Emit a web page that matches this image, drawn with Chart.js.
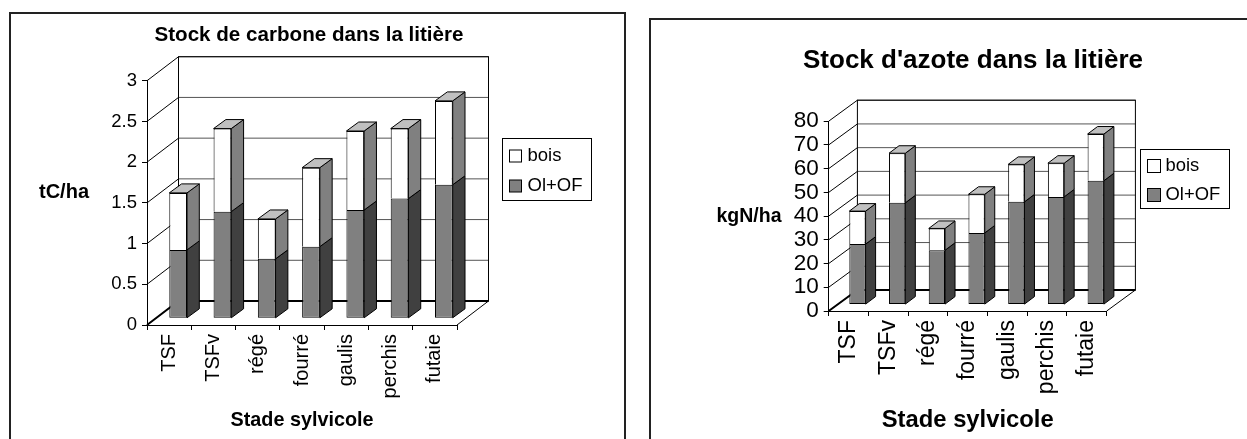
<!DOCTYPE html>
<html>
<head>
<meta charset="utf-8">
<script src="https://cdn.jsdelivr.net/npm/chart.js@4"></script>
<style>
  html, body { margin: 0; background: #fff; overflow: hidden; width: 1247px; height: 439px; }
  .frame { position: absolute; border: 2px solid #222; box-sizing: border-box; }
  canvas { position: absolute; top: 0; }
</style>
</head>
<body>
<div class="frame" style="left:9px; top:12px; width:617px; height:500px"></div>
<div class="frame" style="left:649px; top:18px; width:700px; height:500px"></div>
<canvas id="chartCarbone" width="618" height="439" style="left:0"></canvas>
<canvas id="chartAzote" width="546" height="439" style="left:700px"></canvas>
<script>
const categories = ['TSF', 'TSFv', 'régé', 'fourré', 'gaulis', 'perchis', 'futaie'];

// stock de carbone (tC/ha)
const carboneOlOf = [0.84, 1.31, 0.73, 0.88, 1.33, 1.47, 1.64];
const carboneBois = [0.70, 1.02, 0.49, 0.97, 0.97, 0.86, 1.03];

// stock d'azote (kgN/ha)
const azoteOlOf = [25.5, 42.9, 22.9, 30.2, 43.3, 45.4, 52.2];
const azoteBois = [13.9, 20.9, 9.2, 16.3, 15.8, 14.2, 19.7];

const FONT = '"Liberation Sans", Arial, sans-serif';
Chart.defaults.color = '#000';
Chart.defaults.font.family = FONT;

// dessine les parois, les faces des barres et la legende (pas de 3D dans Chart.js)
const fake3d = {
  id: 'fake3d',
  afterLayout(chart) {
    // titre centre sur tout le canvas, pas seulement sur la zone hors padding
    chart.titleBlock.left = 0;
    chart.titleBlock.right = chart.width;
  },
  beforeDatasetsDraw(chart, args, o) {
    const ctx = chart.ctx, a = chart.chartArea, y = chart.scales.y;
    const [dx, dy] = o.wall;
    ctx.save();
    ctx.lineWidth = 1;
    // lignes de grille sur le mur du fond et le mur de gauche
    y.ticks.forEach(t => {
      const py = y.getPixelForValue(t.value);
      ctx.strokeStyle = '#000';
      ctx.beginPath();
      ctx.moveTo(a.left, py);
      ctx.lineTo(a.left + dx, py + dy);
      ctx.stroke();
      ctx.strokeStyle = '#555';
      ctx.beginPath();
      ctx.moveTo(a.left + dx, py + dy);
      ctx.lineTo(a.right + dx, py + dy);
      ctx.stroke();
    });
    ctx.strokeStyle = '#000';
    ctx.strokeRect(a.left + dx, a.top + dy, a.right - a.left, a.bottom - a.top);
    ctx.beginPath();
    ctx.moveTo(a.right, a.bottom);
    ctx.lineTo(a.right + dx, a.bottom + dy);
    ctx.stroke();
    ctx.lineWidth = 2;
    ctx.beginPath();
    ctx.moveTo(a.left, a.bottom);
    ctx.lineTo(a.left + dx, a.bottom + dy);
    ctx.lineTo(a.right + dx, a.bottom + dy);
    ctx.stroke();
    ctx.restore();
    // les barres sont dessinees au milieu de la profondeur
    ctx.save();
    ctx.translate(o.barShift[0], o.barShift[1]);
  },
  afterDatasetsDraw(chart, args, o) {
    const ctx = chart.ctx;
    const [dx, dy] = o.barDepth;
    ctx.lineWidth = 1;
    ctx.strokeStyle = '#000';
    chart.data.datasets.forEach((ds, i) => {
      chart.getDatasetMeta(i).data.forEach(bar => {
        const r = bar.x + bar.width / 2;
        ctx.fillStyle = ds.sideColor;
        ctx.beginPath();
        ctx.moveTo(r, bar.base);
        ctx.lineTo(r + dx, bar.base + dy);
        ctx.lineTo(r + dx, bar.y + dy);
        ctx.lineTo(r, bar.y);
        ctx.closePath();
        ctx.fill();
        ctx.stroke();
        if (i === chart.data.datasets.length - 1) {
          const l = bar.x - bar.width / 2;
          ctx.fillStyle = '#c0c0c0';
          ctx.beginPath();
          ctx.moveTo(l, bar.y);
          ctx.lineTo(l + dx, bar.y + dy);
          ctx.lineTo(r + dx, bar.y + dy);
          ctx.lineTo(r, bar.y);
          ctx.closePath();
          ctx.fill();
          ctx.stroke();
        }
      });
    });
    ctx.restore();
  },
  afterDraw(chart, args, o) {
    const ctx = chart.ctx;
    ctx.save();
    ctx.fillStyle = '#000';
    ctx.textBaseline = 'middle';
    ctx.textAlign = 'center';
    ctx.font = 'bold ' + o.yTitle.size + 'px ' + FONT;
    ctx.fillText(o.yTitle.text, o.yTitle.x, o.yTitle.y);

    // legende encadree, dans l'ordre inverse des series
    const L = o.legend;
    ctx.strokeStyle = '#000';
    ctx.lineWidth = 1;
    ctx.fillStyle = '#fff';
    ctx.fillRect(L.x, L.y, L.w, L.h);
    ctx.strokeRect(L.x, L.y, L.w, L.h);
    ctx.textAlign = 'left';
    ctx.font = L.size + 'px ' + FONT;
    chart.data.datasets.slice().reverse().forEach((ds, i) => {
      const cy = L.rows[i];
      ctx.fillStyle = ds.backgroundColor;
      ctx.fillRect(L.x + L.swatchX, cy - L.swatch / 2, L.swatch, L.swatch);
      ctx.strokeRect(L.x + L.swatchX, cy - L.swatch / 2, L.swatch, L.swatch);
      ctx.fillStyle = '#000';
      ctx.fillText(ds.label, L.x + L.textX, cy);
    });
    ctx.restore();
  }
};

function makeChart(id, c) {
  new Chart(document.getElementById(id), {
    type: 'bar',
    plugins: [fake3d],
    data: {
      labels: categories,
      datasets: [
        { label: 'Ol+OF', data: c.olof, backgroundColor: '#808080', sideColor: '#404040', borderWidth: 1 },
        // pas de bord en bas : le haut de Ol+OF fait deja la separation
        { label: 'bois', data: c.bois, backgroundColor: '#ffffff', sideColor: '#808080',
          borderWidth: { top: 1, left: 1, right: 1, bottom: 0 } }
      ]
    },
    options: {
      responsive: false,
      animation: false,
      layout: { padding: { left: 0, right: c.padRight, top: 0, bottom: c.padBottom } },
      datasets: {
        bar: {
          categoryPercentage: 1,
          barPercentage: c.barPct,
          borderColor: '#000',
          borderSkipped: false,
          clip: false
        }
      },
      scales: {
        x: {
          stacked: true,
          afterFit: s => { s.height = c.xHeight; },
          grid: { drawOnChartArea: false, color: '#000', tickLength: 5 },
          border: { color: '#000' },
          ticks: { autoSkip: false, minRotation: 90, maxRotation: 90, padding: 4, font: { size: c.xTickSize } },
          title: { display: true, text: 'Stade sylvicole', padding: 0, font: { size: c.xTitleSize, weight: 'bold' } }
        },
        y: {
          stacked: true,
          min: 0,
          max: c.max,
          afterFit: s => { s.width = c.yWidth; },
          grid: { drawOnChartArea: false, color: '#000', tickLength: 5 },
          border: { color: '#000' },
          ticks: { stepSize: c.step, autoSkip: false, padding: 5, font: { size: c.yTickSize }, callback: v => String(v) }
        }
      },
      plugins: {
        legend: { display: false },
        tooltip: { enabled: false },
        title: {
          display: true,
          text: c.title,
          padding: c.titlePad,
          font: { size: c.titleSize, weight: 'bold', lineHeight: 1.2 }
        },
        fake3d: { wall: c.wall, barShift: c.barShift, barDepth: c.barDepth, yTitle: c.yTitle, legend: c.legend }
      }
    }
  });
}

makeChart('chartCarbone', {
  title: 'Stock de carbone dans la litière',
  titleSize: 20.6,
  titlePad: { top: 22.5, bottom: 33.5 },
  olof: carboneOlOf,
  bois: carboneBois,
  max: 3,
  step: 0.5,
  padRight: 161,
  padBottom: 7,
  xHeight: 107,
  yWidth: 147,
  barPct: 0.4,
  xTickSize: 20,
  yTickSize: 18.5,
  xTitleSize: 19.8,
  wall: [31.5, -24],
  barShift: [9, -6.7],
  barDepth: [12.3, -9],
  yTitle: { text: 'tC/ha', x: 64, y: 192, size: 20 },
  legend: { x: 502.5, y: 138.5, w: 89, h: 62, size: 18.5, rows: [156, 186], swatch: 12, swatchX: 7, textX: 25 }
});

makeChart('chartAzote', {
  title: "Stock d'azote dans la litière",
  titleSize: 26,
  titlePad: { top: 45, bottom: 45 },
  olof: azoteOlOf,
  bois: azoteBois,
  max: 80,
  step: 10,
  padRight: 139.3,
  padBottom: 4,
  xHeight: 124,
  yWidth: 128.7,
  barPct: 0.41,
  xTickSize: 23,
  yTickSize: 22.5,
  xTitleSize: 23.8,
  wall: [28.7, -21],
  barShift: [8.9, -6.4],
  barDepth: [10, -7.5],
  yTitle: { text: 'kgN/ha', x: 49, y: 217, size: 19.5 },
  legend: { x: 440.5, y: 149.5, w: 89, h: 59, size: 18.4, rows: [166, 195], swatch: 13, swatchX: 7, textX: 25 }
});
</script>
</body>
</html>
